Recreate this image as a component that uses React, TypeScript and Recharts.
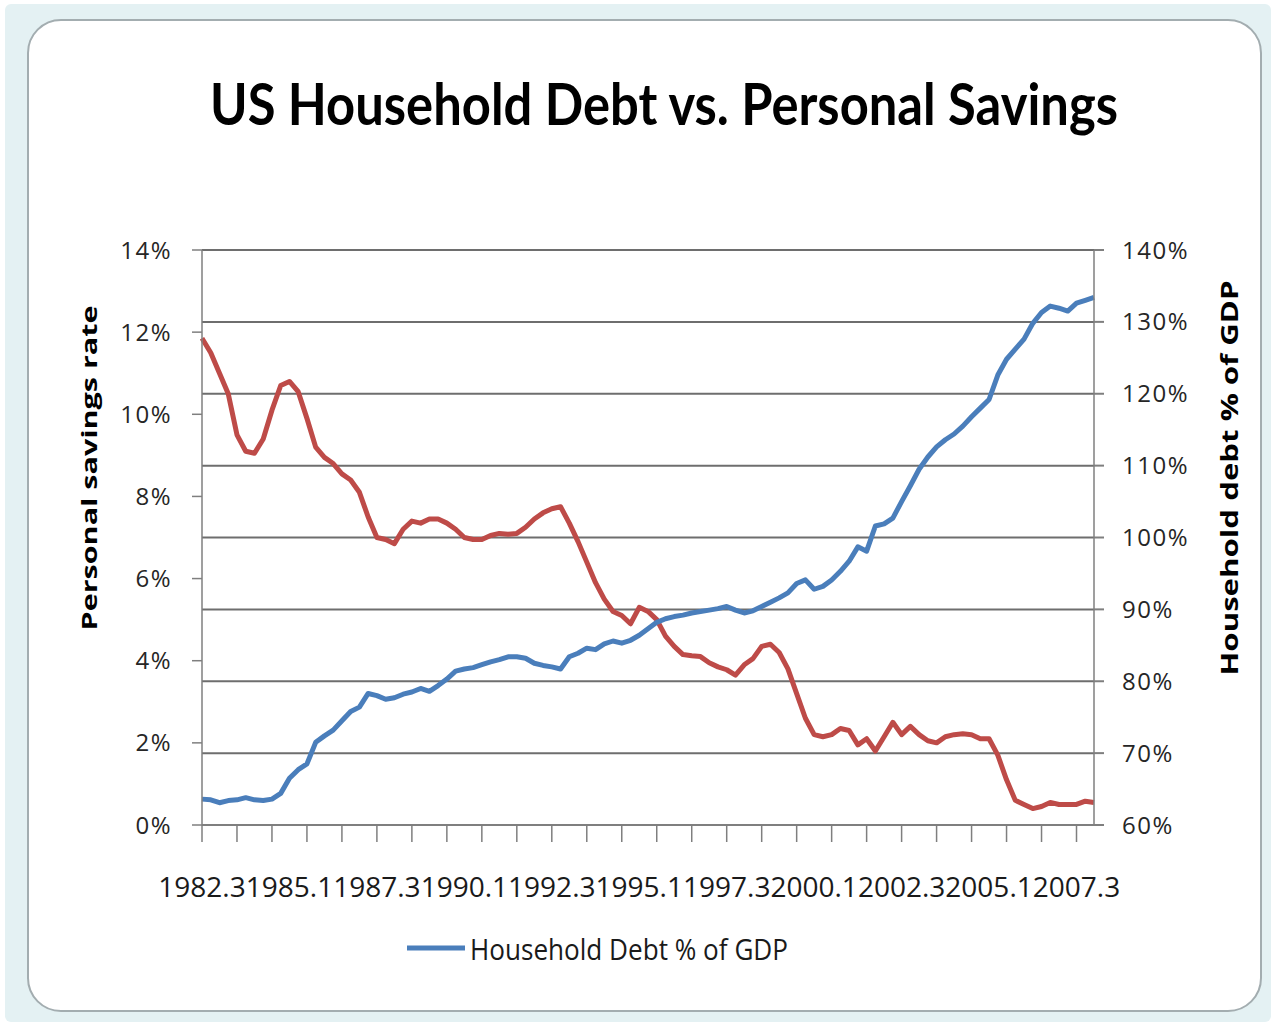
import React from "react";
import {
  LineChart,
  Line,
  XAxis,
  YAxis,
  CartesianGrid,
  Legend,
} from "recharts";

// quarterly categories, 1982 Q3 .. 2008 Q1 (labels like "1982.3")
const quarters: string[] = Array.from({ length: 103 }, (_, i) => {
  const q = i + 2;
  return `${1982 + Math.floor(q / 4)}.${(q % 4) + 1}`;
});

// personal savings rate, % (left axis)
const savingsRate = [
  11.85, 11.5, 11.0, 10.5, 9.5, 9.1, 9.05, 9.4, 10.1, 10.7,
  10.8, 10.55, 9.9, 9.2, 8.95, 8.8, 8.55, 8.4, 8.1, 7.5,
  7.0, 6.95, 6.85, 7.2, 7.4, 7.35, 7.45, 7.45, 7.35, 7.2,
  7.0, 6.95, 6.95, 7.05, 7.1, 7.08, 7.1, 7.25, 7.45, 7.6,
  7.7, 7.75, 7.35, 6.9, 6.4, 5.9, 5.5, 5.2, 5.1, 4.9,
  5.3, 5.2, 5.0, 4.6, 4.35, 4.15, 4.12, 4.1, 3.95, 3.85,
  3.78, 3.65, 3.9, 4.05, 4.35, 4.4, 4.2, 3.8, 3.2, 2.6,
  2.2, 2.15, 2.2, 2.35, 2.3, 1.95, 2.1, 1.8, 2.15, 2.5,
  2.2, 2.4, 2.2, 2.05, 2.0, 2.15, 2.2, 2.22, 2.2, 2.1,
  2.1, 1.7, 1.1, 0.6, 0.5, 0.4, 0.45, 0.55, 0.5, 0.5,
  0.5, 0.58, 0.55,
];

// household debt as % of GDP (right axis)
const householdDebt = [
  63.6, 63.5, 63.1, 63.4, 63.5, 63.8, 63.5, 63.4, 63.6, 64.4,
  66.5, 67.7, 68.5, 71.5, 72.4, 73.2, 74.5, 75.8, 76.4, 78.3,
  78.0, 77.5, 77.7, 78.2, 78.5, 79.0, 78.6, 79.4, 80.3, 81.4,
  81.7, 81.9, 82.3, 82.7, 83.0, 83.4, 83.4, 83.2, 82.5, 82.2,
  82.0, 81.7, 83.4, 83.9, 84.6, 84.4, 85.2, 85.6, 85.3, 85.7,
  86.4, 87.3, 88.2, 88.7, 89.0, 89.2, 89.5, 89.7, 89.9, 90.1,
  90.4, 89.9, 89.5, 89.8, 90.4, 91.0, 91.6, 92.3, 93.6, 94.1,
  92.8, 93.2, 94.1, 95.3, 96.7, 98.7, 98.1, 101.6, 101.9, 102.7,
  105.0, 107.2, 109.5, 111.2, 112.6, 113.6, 114.4, 115.5, 116.8, 118.0,
  119.2, 122.6, 124.8, 126.2, 127.6, 129.8, 131.3, 132.2, 131.9, 131.5,
  132.6, 133.0, 133.4,
];

const savingsTicks = [0, 2, 4, 6, 8, 10, 12, 14];
const debtTicks = [60, 70, 80, 90, 100, 110, 120, 130, 140];

const data = quarters.map((q, i) => ({
  q,
  savings: savingsRate[i],
  debt: householdDebt[i],
}));

const AXIS_GRAY = "#7f7f7f";
const FONT = "'Open Sans', 'Noto Sans', sans-serif";

const QuarterTick = ({ x, y, index, payload }: any) => (
  <g>
    {index % 4 === 0 && (
      <line x1={x} x2={x} y1={y} y2={y + 17} stroke={AXIS_GRAY} strokeWidth={1.5} />
    )}
    {index % 10 === 0 && (
      <text x={x} y={y + 72} textAnchor="middle" fontSize={28} fontFamily={FONT} fill="#1a1a1a">
        {payload.value}
      </text>
    )}
  </g>
);

const axisTitle = (text: string, dx: number, dy: number, len: number, size: number) =>
  (props: any) => {
    const vb = props.viewBox || {};
    const cx = vb.x + dx;
    const cy = vb.y + dy;
    return (
      <text
        x={cx}
        y={cy}
        transform={`rotate(-90 ${cx} ${cy})`}
        textAnchor="middle"
        dominantBaseline="central"
        fontSize={size}
        fontWeight="bold"
        fontFamily={FONT}
        fill="#000"
        textLength={len}
        lengthAdjust="spacingAndGlyphs"
      >
        {text}
      </text>
    );
  };

const LegendContent = (props: any) => {
  const items = (props.payload || []).filter((e: any) => e.type !== "none");
  return (
    <svg width={420} height={44}>
      {items.map((e: any) => (
        <g key={e.value}>
          <line x1={0} x2={58} y1={22} y2={22} stroke={e.color} strokeWidth={5} />
          <text
            x={63}
            y={22}
            dominantBaseline="central"
            fontSize={29}
            fontFamily={FONT}
            fill="#1a1a1a"
            textLength={318}
            lengthAdjust="spacingAndGlyphs"
          >
            {e.value}
          </text>
        </g>
      ))}
    </svg>
  );
};

const tickStyle = { fontSize: 24, fontFamily: FONT, fill: "#262626", letterSpacing: 1.5 };

export default function App() {
  return (
    <div
      style={{
        position: "absolute",
        left: 0,
        top: 0,
        width: 1276,
        height: 1026,
        background: "#fff",
        overflow: "hidden",
      }}
    >
      {/* picture frame */}
      <div
        style={{
          position: "absolute",
          left: 5,
          top: 4,
          width: 1266,
          height: 1018,
          background: "#e4f1f3",
          borderRadius: 6,
        }}
      />
      <div
        style={{
          position: "absolute",
          left: 27,
          top: 19,
          width: 1231,
          height: 989,
          background: "#fff",
          border: "2px solid #a3adb0",
          borderRadius: 34,
        }}
      />

      <div style={{ position: "absolute", left: 0, top: 0 }}>
        <LineChart
          width={1276}
          height={1026}
          data={data}
          margin={{ top: 250, right: 32, bottom: 141, left: 20 }}
        >
          <CartesianGrid
            yAxisId="right"
            vertical={false}
            stroke="#6e6e6e"
            strokeWidth={2}
          />
          <XAxis
            dataKey="q"
            interval={0}
            height={60}
            tickSize={0}
            tickMargin={0}
            tickLine={false}
            axisLine={{ stroke: AXIS_GRAY, strokeWidth: 2 }}
            tick={<QuarterTick />}
          />
          <YAxis
            yAxisId="left"
            width={182}
            domain={[0, 14]}
            ticks={savingsTicks}
            tickFormatter={(v) => `${v}%`}
            tickSize={10}
            tickMargin={20}
            tick={tickStyle}
            tickLine={{ stroke: AXIS_GRAY, strokeWidth: 1.5 }}
            axisLine={{ stroke: AXIS_GRAY, strokeWidth: 1.5 }}
            label={axisTitle("Personal savings  rate", 68, 218, 325, 22)}
          />
          <YAxis
            yAxisId="right"
            orientation="right"
            width={150}
            domain={[60, 140]}
            ticks={debtTicks}
            tickFormatter={(v) => `${v}%`}
            tickSize={10}
            tickMargin={18}
            tick={tickStyle}
            tickLine={{ stroke: AXIS_GRAY, strokeWidth: 2 }}
            axisLine={{ stroke: AXIS_GRAY, strokeWidth: 1.5 }}
            label={axisTitle("Household debt % of GDP", 134, 228, 395, 24)}
          />
          <Line
            yAxisId="left"
            dataKey="savings"
            name="Personal savings rate"
            stroke="#be4b48"
            strokeWidth={5}
            strokeLinejoin="round"
            dot={false}
            legendType="none"
            isAnimationActive={false}
          />
          <Line
            yAxisId="right"
            dataKey="debt"
            name="Household Debt % of GDP"
            stroke="#4a7ebb"
            strokeWidth={5}
            strokeLinejoin="round"
            dot={false}
            isAnimationActive={false}
          />
          <Legend
            layout="horizontal"
            verticalAlign="middle"
            align="center"
            content={<LegendContent />}
            wrapperStyle={{ left: 407, top: 926, width: 420, height: 44 }}
          />
        </LineChart>
      </div>

      {/* chart title */}
      <svg
        width={1276}
        height={160}
        style={{ position: "absolute", left: 0, top: 0, pointerEvents: "none" }}
      >
        <text
          x={210}
          y={125}
          fontSize={58}
          fontWeight="bold"
          fontFamily="Lato, 'Open Sans', sans-serif"
          fill="#000"
          textLength={908}
          lengthAdjust="spacingAndGlyphs"
        >
          US Household Debt vs. Personal Savings
        </text>
      </svg>
    </div>
  );
}
